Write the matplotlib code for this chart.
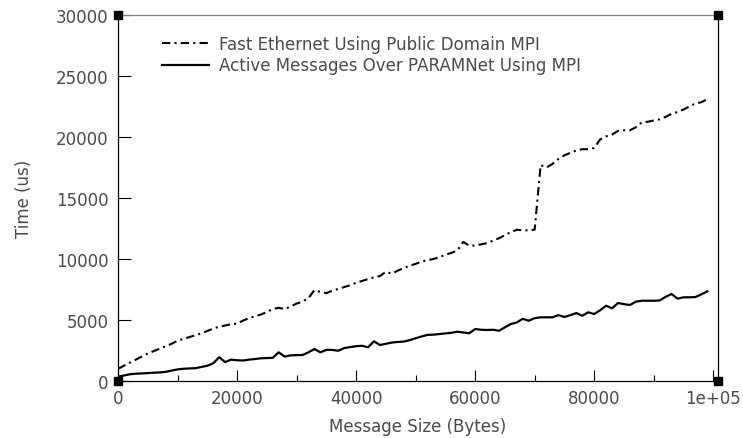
import matplotlib
matplotlib.use("Agg")
import matplotlib.pyplot as plt
import numpy as np

# message sizes (bytes), sampled every 1000
msg_size = np.arange(0, 100000, 1000)

fast_ethernet = [
    1000, 1250, 1500, 1750, 2000, 2250, 2450, 2650, 2850, 3050,
    3300, 3450, 3600, 3750, 3900, 4100, 4300, 4450, 4550, 4650,
    4700, 4950, 5150, 5300, 5450, 5650, 5900, 6000, 5900, 6100,
    6350, 6500, 6800, 7450, 7300, 7200, 7400, 7550, 7700, 7850,
    8050, 8200, 8350, 8500, 8600, 8950, 8800, 9050, 9250, 9450,
    9600, 9800, 9900, 10000, 10150, 10350, 10500, 10700, 11400, 11100,
    11100, 11200, 11300, 11500, 11700, 11950, 12200, 12400, 12350, 12350,
    12400, 17700, 17500, 17800, 18200, 18500, 18700, 18900, 19000, 19000,
    19100, 19800, 20050, 20200, 20500, 20550, 20550, 20800, 21200, 21250,
    21350, 21450, 21650, 21900, 22050, 22250, 22500, 22750, 22850, 23100,
]

active_messages = [
    350, 450, 550, 600, 620, 650, 680, 700, 750, 850,
    950, 1000, 1030, 1050, 1150, 1250, 1450, 1950, 1550, 1750,
    1700, 1680, 1750, 1800, 1860, 1880, 1900, 2350, 2000, 2100,
    2120, 2130, 2350, 2620, 2350, 2550, 2550, 2480, 2700, 2780,
    2850, 2890, 2760, 3250, 2950, 3050, 3150, 3200, 3230, 3350,
    3500, 3650, 3780, 3800, 3850, 3900, 3950, 4040, 3980, 3910,
    4260, 4200, 4180, 4200, 4120, 4400, 4670, 4800, 5100, 4940,
    5150, 5220, 5220, 5220, 5400, 5250, 5400, 5570, 5350, 5630,
    5490, 5800, 6170, 5960, 6390, 6300, 6230, 6500, 6580, 6580,
    6580, 6600, 6900, 7130, 6750, 6860, 6860, 6880, 7100, 7350,
]

labels = ["Fast Ethernet Using Public Domain MPI",
          "Active Messages Over PARAMNet Using MPI"]
x_ticks = [0, 20000, 40000, 60000, 80000, 100000]
x_tick_labels = ["0", "20000", "40000", "60000", "80000", "1e+05"]
y_ticks = [0, 5000, 10000, 15000, 20000, 25000, 30000]

text_col = "#4a4a4a"
plt.rcParams["font.family"] = "DejaVu Sans"
plt.rcParams["font.size"] = 12

fig = plt.figure(figsize=(7.43, 4.39), dpi=100)
ax = fig.add_axes([118 / 743, 57 / 439, 600 / 743, 366 / 439])

ax.plot(msg_size, fast_ethernet, color="black", lw=1.5,
        linestyle=(0, (4, 2, 1, 2)), label=labels[0])
ax.plot(msg_size, active_messages, color="black", lw=1.6, label=labels[1])

ax.set_xlim(0, 100800)
ax.set_ylim(0, 30000)
ax.set_xticks(x_ticks)
ax.set_xticklabels(x_tick_labels)
ax.set_xticks([10000, 30000, 50000, 70000, 90000], minor=True)
ax.set_yticks(y_ticks)

ax.tick_params(axis="both", which="both", direction="in", colors="black",
               labelcolor=text_col, width=0.8, top=False, right=False)
ax.tick_params(axis="x", which="major", length=8, pad=6)
ax.tick_params(axis="x", which="minor", length=4.3)
ax.tick_params(axis="y", which="major", length=9, pad=7)

for side in ["left", "bottom", "right"]:
    ax.spines[side].set_color("black")
    ax.spines[side].set_linewidth(0.9)
ax.spines["top"].set_color("#808080")
ax.spines["top"].set_linewidth(0.9)

# corner squares
ax.plot([0, 1, 0, 1], [0, 0, 1, 1], "s", color="black", ms=6,
        transform=ax.transAxes, clip_on=False, zorder=5)

ax.set_xlabel("Message Size (Bytes)", color=text_col, labelpad=7)
ax.set_ylabel("Time (us)", color=text_col, labelpad=16)

leg = ax.legend(loc="upper left", bbox_to_anchor=(0.074, 0.946),
                frameon=False, handlelength=2.8, handletextpad=0.6,
                borderpad=0, borderaxespad=0, labelspacing=0.22)
for t in leg.get_texts():
    t.set_color(text_col)

fig.savefig("out.png", dpi=100)
